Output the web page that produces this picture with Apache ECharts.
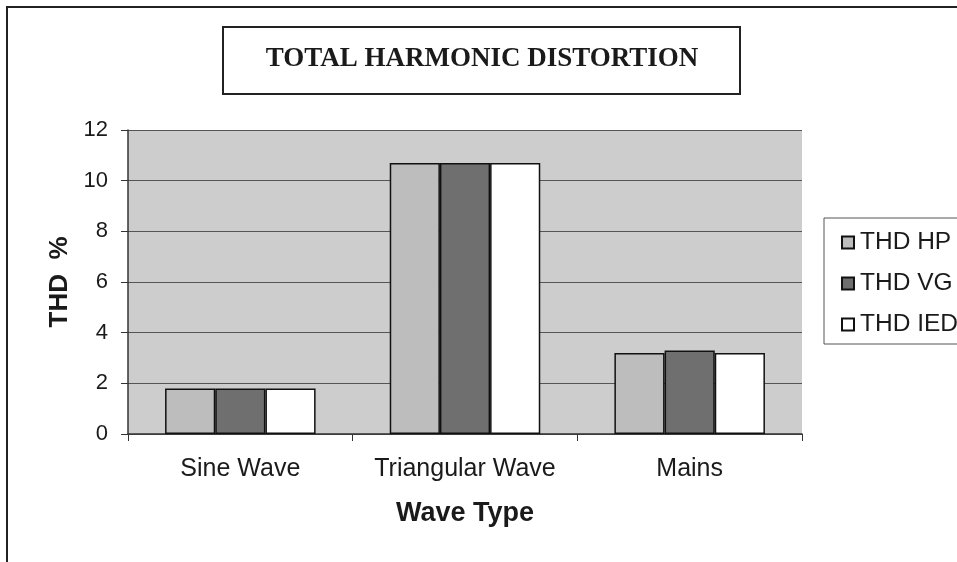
<!DOCTYPE html>
<html>
<head>
<meta charset="utf-8">
<script src="https://cdn.jsdelivr.net/npm/echarts@6/dist/echarts.min.js"></script>
<style>
  html, body { margin: 0; padding: 0; background: #ffffff; }
  #chart { width: 957px; height: 562px; }
</style>
</head>
<body>
<div id="chart"></div>
<script>
// Wave types on the category axis
const categories = ['Sine Wave', 'Triangular Wave', 'Mains'];

// THD measured by each instrument (%)
const thdHP = [1.8, 10.7, 3.2];
const thdVG = [1.8, 10.7, 3.3];
const thdIED = [1.8, 10.7, 3.2];

// Value axis ticks
const yTicks = [0, 2, 4, 6, 8, 10, 12];

const sans = 'Liberation Sans, Arial, sans-serif';
const serif = 'Liberation Serif, Times New Roman, serif';

const chart = echarts.init(document.getElementById('chart'), null, { renderer: 'canvas' });

function barSeries(name, data, color) {
  return {
    name: name,
    type: 'bar',
    data: data,
    barGap: '0%',
    barCategoryGap: '33%',
    itemStyle: { color: color, borderColor: '#111111', borderWidth: 1.5 },
    emphasis: { disabled: true }
  };
}

chart.setOption({
  animation: false,
  backgroundColor: '#ffffff',
  title: {
    text: 'TOTAL HARMONIC DISTORTION',
    left: 482,
    top: 46,
    textAlign: 'center',
    padding: 0,
    textStyle: { fontFamily: serif, fontWeight: 'bold', fontSize: 27, color: '#1a1a1a' }
  },
  legend: {
    orient: 'vertical',
    left: 836,
    top: 225,
    itemWidth: 12,
    itemHeight: 12,
    itemGap: 16,
    icon: 'rect',
    textStyle: { fontFamily: sans, fontSize: 24.5, color: '#1a1a1a', padding: [0, 0, 0, 1] },
    data: ['THD HP', 'THD VG', 'THD IED']
  },
  grid: {
    left: 128,
    right: 155,
    top: 130,
    bottom: 128,
    show: true,
    backgroundColor: '#cdcdcd',
    borderWidth: 0,
    containLabel: false
  },
  xAxis: {
    type: 'category',
    data: categories,
    name: 'Wave Type',
    nameLocation: 'middle',
    nameGap: 66,
    nameTextStyle: { fontFamily: sans, fontWeight: 'bold', fontSize: 27, color: '#1a1a1a' },
    axisLine: { lineStyle: { color: '#333333', width: 1.5 } },
    axisTick: { show: true, interval: 0, length: 7, lineStyle: { color: '#333333' } },
    axisLabel: { interval: 0, hideOverlap: false, fontFamily: sans, fontSize: 25, color: '#1a1a1a', margin: 23 },
    splitLine: { show: false }
  },
  yAxis: {
    type: 'value',
    min: yTicks[0],
    max: yTicks[yTicks.length - 1],
    interval: 2,
    name: 'THD  %',
    nameLocation: 'middle',
    nameGap: 55,
    nameTextStyle: { fontFamily: sans, fontWeight: 'bold', fontSize: 26, color: '#1a1a1a' },
    axisLine: { show: true, lineStyle: { color: '#333333', width: 1.5 } },
    axisTick: { show: true, length: 7, lineStyle: { color: '#333333' } },
    axisLabel: { fontFamily: sans, fontSize: 22, color: '#1a1a1a', margin: 20 },
    splitLine: { show: true, lineStyle: { color: '#555555', width: 1 } }
  },
  graphic: [
    {
      type: 'rect',
      shape: { x: 7, y: 7, width: 1000, height: 600 },
      style: { fill: 'none', stroke: '#222222', lineWidth: 2 },
      silent: true
    },
    {
      type: 'rect',
      shape: { x: 223, y: 27, width: 517, height: 67 },
      style: { fill: 'none', stroke: '#222222', lineWidth: 2 },
      silent: true
    },
    {
      type: 'rect',
      shape: { x: 824, y: 218, width: 200, height: 126 },
      style: { fill: 'none', stroke: '#555555', lineWidth: 1 },
      silent: true
    }
  ],
  series: [
    barSeries('THD HP', thdHP, '#bdbdbd'),
    barSeries('THD VG', thdVG, '#6f6f6f'),
    barSeries('THD IED', thdIED, '#ffffff')
  ]
});
</script>
</body>
</html>
